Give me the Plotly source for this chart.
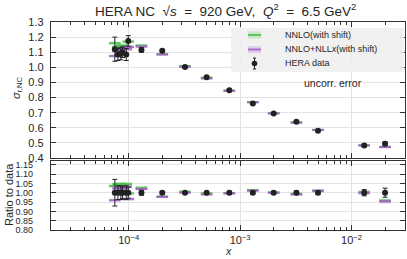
import plotly.graph_objects as go

# ---------------- data ----------------
x_vals = [7.5e-5, 8.0e-5, 8.5e-5, 8.8e-5, 9.5e-5, 9.9e-5, 1.3e-4, 2.0e-4, 3.2e-4,
          5.0e-4, 8.0e-4, 1.3e-3, 2.0e-3, 3.2e-3, 5.0e-3, 1.3e-2, 2.0e-2]
data_vals = [1.120, 1.085, 1.090, 1.100, 1.085, 1.175, 1.115, 1.110, 1.003,
             0.935, 0.848, 0.760, 0.695, 0.640, 0.580, 0.483, 0.495]
data_err = [0.080, 0.040, 0.040, 0.035, 0.040, 0.035, 0.015, 0.008, 0.006,
            0.006, 0.006, 0.006, 0.005, 0.006, 0.005, 0.008, 0.012]
nnlo_vals = [1.160, 1.135, 1.140, 1.145, 1.135, 1.170, 1.145, 1.087, 1.009,
             0.932, 0.846, 0.771, 0.696, 0.636, 0.586, 0.484, 0.474]
nnlo_err = [0.012, 0.012, 0.012, 0.012, 0.012, 0.012, 0.010, 0.007, 0.006,
            0.005, 0.005, 0.005, 0.005, 0.005, 0.005, 0.006, 0.006]
nllx_vals = [1.075, 1.110, 1.120, 1.125, 1.120, 1.135, 1.137, 1.085, 1.003,
             0.926, 0.845, 0.768, 0.695, 0.634, 0.586, 0.483, 0.472]
nllx_err = [0.012, 0.012, 0.012, 0.012, 0.012, 0.012, 0.010, 0.007, 0.006,
            0.005, 0.005, 0.005, 0.005, 0.005, 0.005, 0.006, 0.006]

top_ticks = [0.4, 0.5, 0.6, 0.7, 0.8, 0.9, 1.0, 1.1, 1.2, 1.3]
ratio_ticks = [0.80, 0.85, 0.90, 0.95, 1.00, 1.05, 1.10, 1.15]
x_major = [1e-4, 1e-3, 1e-2]
x_major_text = ["10<sup>−4</sup>", "10<sup>−3</sup>", "10<sup>−2</sup>"]
x_minor = [2e-5, 3e-5, 4e-5, 5e-5, 6e-5, 7e-5, 8e-5, 9e-5,
           2e-4, 3e-4, 4e-4, 5e-4, 6e-4, 7e-4, 8e-4, 9e-4,
           2e-3, 3e-3, 4e-3, 5e-3, 6e-3, 7e-3, 8e-3, 9e-3,
           2e-2, 3e-2]

# ---------------- style ----------------
FONT = "Liberation Sans, Arial, sans-serif"
TXT = "#262626"
GREEN_L = "rgba(70,190,70,0.85)"
GREEN_B = "rgba(70,190,70,0.22)"
PURP_L = "rgba(165,90,200,0.85)"
PURP_B = "rgba(165,90,200,0.22)"
HW = 10 ** 0.052  # half-width factor of theory bars (log)

fig = go.Figure()


def add_theory(vals, errs, ref, band_col, line_col, yaxis):
    xa = "x" if yaxis == "y" else "x2"
    lx, ly = [], []
    for xi, v, e, d in zip(x_vals, vals, errs, ref):
        c = v / d
        ee = e / d
        x0, x1 = xi / HW, xi * HW
        fig.add_trace(go.Scatter(
            x=[x0, x1, x1, x0, x0], y=[c - ee, c - ee, c + ee, c + ee, c - ee],
            mode="lines", fill="toself", fillcolor=band_col,
            line=dict(width=0), hoverinfo="skip", showlegend=False,
            xaxis=xa, yaxis=yaxis))
        lx += [x0, x1, None]
        ly += [c, c, None]
    fig.add_trace(go.Scatter(x=lx, y=ly, mode="lines",
                             line=dict(color=line_col, width=2),
                             hoverinfo="skip", showlegend=False,
                             xaxis=xa, yaxis=yaxis))


ones = [1.0] * len(x_vals)
add_theory(nnlo_vals, nnlo_err, ones, GREEN_B, GREEN_L, "y")
add_theory(nllx_vals, nllx_err, ones, PURP_B, PURP_L, "y")
add_theory(nnlo_vals, nnlo_err, data_vals, GREEN_B, GREEN_L, "y2")
add_theory(nllx_vals, nllx_err, data_vals, PURP_B, PURP_L, "y2")

fig.add_trace(go.Scatter(
    x=x_vals, y=data_vals, mode="markers",
    marker=dict(color="#222222", size=6),
    error_y=dict(type="data", array=data_err, color="#222222", thickness=1, width=2.5),
    showlegend=False, xaxis="x", yaxis="y"))
fig.add_trace(go.Scatter(
    x=x_vals, y=ones, mode="markers",
    marker=dict(color="#222222", size=6),
    error_y=dict(type="data", array=[e / d for e, d in zip(data_err, data_vals)],
                 color="#222222", thickness=1, width=2.5),
    showlegend=False, xaxis="x2", yaxis="y2"))

L, R, T, B = 51, 2, 22, 29
PH = 259 - T - B
top_dom = [(230 - 158) / PH, 1.0]
bot_dom = [0.0, (230 - 161) / PH]

axis_common = dict(
    showline=True, linecolor="#333333", linewidth=1.2, mirror="ticks",
    ticks="inside", ticklen=5, tickcolor="#333333", tickwidth=1,
    showgrid=True, gridcolor="#e3e3e3", gridwidth=1, zeroline=False,
    automargin=False,
)
xr = [-4.698, -1.52]
xaxis_common = dict(
    type="log", range=xr, tickmode="array", tickvals=x_major, ticktext=x_major_text,
    minor=dict(tickmode="array", tickvals=x_minor, ticks="inside", ticklen=3,
               tickcolor="#333333", showgrid=False),
    tickfont=dict(family=FONT, size=11, color=TXT),
)
fig.update_layout(
    width=407, height=259, margin=dict(l=L, r=R, t=T, b=B, autoexpand=False),
    paper_bgcolor="white", plot_bgcolor="white",
    showlegend=False,
    xaxis=dict(**axis_common, **xaxis_common, domain=[0, 1], anchor="y",
               showticklabels=False),
    yaxis=dict(**axis_common, domain=top_dom, range=[0.4, 1.3], anchor="x",
               tickmode="array", tickvals=top_ticks,
               ticktext=[f"{t:.1f}" for t in top_ticks],
               tickfont=dict(family=FONT, size=11, color=TXT),
               ticklabelstandoff=4),
    xaxis2=dict(**axis_common, **xaxis_common, domain=[0, 1], anchor="y2"),
    yaxis2=dict(**axis_common, domain=bot_dom, range=[0.8, 1.17], anchor="x2",
                tickmode="array", tickvals=ratio_ticks,
                ticktext=[f"{t:.2f}" for t in ratio_ticks],
                tickfont=dict(family=FONT, size=9, color=TXT),
                ticklabelstandoff=15),
)


def px(xp):
    return (xp - L) / (407 - L - R)


def py(yp):
    return (259 - B - yp) / PH


ann = []
ann.append(dict(text="HERA NC  √<i>s</i>  =  920 GeV,  <i>Q</i><sup>2</sup>  =  6.5 GeV<sup>2</sup>",
                x=px(225), y=py(10), xref="paper", yref="paper", showarrow=False,
                font=dict(family=FONT, size=13.5, color=TXT), xanchor="center", yanchor="middle"))
ann.append(dict(text="<i>σ</i><sub>r,NC</sub>", x=px(17), y=py(88), xref="paper", yref="paper",
                showarrow=False, textangle=-90, font=dict(family=FONT, size=11, color=TXT),
                xanchor="center", yanchor="middle"))
ann.append(dict(text="Ratio to data", x=px(9), y=py(195), xref="paper", yref="paper",
                showarrow=False, textangle=-90, font=dict(family=FONT, size=11, color=TXT),
                xanchor="center", yanchor="middle"))
ann.append(dict(text="<i>x</i>", x=px(228), y=py(251), xref="paper", yref="paper",
                showarrow=False, font=dict(family=FONT, size=10.5, color=TXT),
                xanchor="center", yanchor="middle"))
ann.append(dict(text="uncorr. error", x=px(333), y=py(83), xref="paper", yref="paper",
                showarrow=False, font=dict(family=FONT, size=10.5, color=TXT),
                xanchor="center", yanchor="middle"))
legend_rows = [("NNLO(with shift)", 35), ("NNLO+NLL<i>x</i>(with shift)", 49.5), ("HERA data", 63.5)]
for t, yy in legend_rows:
    ann.append(dict(text=t, x=px(282.5), y=py(yy), xref="paper", yref="paper",
                    showarrow=False, font=dict(family=FONT, size=9, color=TXT),
                    xanchor="left", yanchor="middle"))

shapes = []
shapes.append(dict(type="rect", xref="paper", yref="paper", x0=px(231), x1=px(404),
                   y0=py(72), y1=py(28), fillcolor="rgba(238,238,238,0.85)",
                   line=dict(width=0), layer="above"))
for (col_b, col_l), yy in [((GREEN_B, GREEN_L), 35), ((PURP_B, PURP_L), 49.5)]:
    shapes.append(dict(type="rect", xref="paper", yref="paper", x0=px(248), x1=px(261),
                       y0=py(yy + 3.5), y1=py(yy - 3.5), fillcolor=col_b,
                       line=dict(width=0), layer="above"))
    shapes.append(dict(type="line", xref="paper", yref="paper", x0=px(248), x1=px(261),
                       y0=py(yy), y1=py(yy), line=dict(color=col_l, width=2), layer="above"))
shapes.append(dict(type="line", xref="paper", yref="paper", x0=px(254.5), x1=px(254.5),
                   y0=py(69), y1=py(58), line=dict(color="#222222", width=1), layer="above"))
for yy in (69, 58):
    shapes.append(dict(type="line", xref="paper", yref="paper", x0=px(253), x1=px(256),
                       y0=py(yy), y1=py(yy), line=dict(color="#222222", width=1), layer="above"))
shapes.append(dict(type="circle", xref="paper", yref="paper", x0=px(251.7), x1=px(257.3),
                   y0=py(66.3), y1=py(60.7), fillcolor="#222222",
                   line=dict(width=0), layer="above"))

fig.update_layout(annotations=ann, shapes=shapes, hovermode=False)
fig.write_html(
    "out.html",
    config={"displayModeBar": False, "staticPlot": True},
    post_script="document.body.style.margin='0';document.body.style.padding='0';"
                "document.documentElement.style.overflow='hidden';",
)
